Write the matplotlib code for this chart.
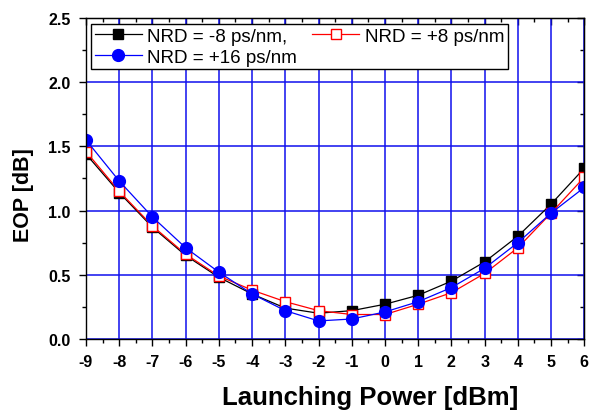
import numpy as np
import matplotlib
matplotlib.use('Agg')
from matplotlib import pyplot as plt
from matplotlib.ticker import MultipleLocator

plt.rcParams['font.family'] = ['Liberation Sans', 'DejaVu Sans']
plt.rcParams['axes.unicode_minus'] = False

# launching power [dBm]
power = [-9, -8, -7, -6, -5, -4, -3, -2, -1, 0, 1, 2, 3, 4, 5, 6]
# EOP [dB] per residual dispersion
eop_m8 = [1.44, 1.14, 0.87, 0.65, 0.48, 0.35, 0.24, 0.20, 0.22, 0.27, 0.34, 0.45, 0.60, 0.80, 1.05, 1.33]
eop_p8 = [1.46, 1.15, 0.88, 0.66, 0.49, 0.38, 0.29, 0.22, 0.19, 0.19, 0.27, 0.36, 0.51, 0.71, 0.98, 1.26]
eop_p16 = [1.55, 1.23, 0.95, 0.71, 0.52, 0.35, 0.22, 0.14, 0.155, 0.21, 0.29, 0.40, 0.55, 0.75, 0.98, 1.18]

fig = plt.figure(figsize=(5.89, 4.14), dpi=100)
ax = fig.add_axes([0.146, 0.179, 0.846, 0.775])

ax.grid(True, which='major', color='#1010ee', lw=1.1)
ax.set_axisbelow(True)

l1, = ax.plot(power, eop_m8, color='black', lw=0.9, marker='s', ms=7,
              mfc='black', mec='black', label='NRD = -8 ps/nm,')
l2, = ax.plot(power, eop_p8, color='red', lw=0.9, marker='s', ms=7,
              mfc='white', mec='red', mew=1.0, label='NRD = +8 ps/nm')
l3, = ax.plot(power, eop_p16, color='blue', lw=0.9, marker='o', ms=8.5,
              mfc='blue', mec='blue', label='NRD = +16 ps/nm')

ax.set_xlim(-9, 6)
ax.set_ylim(0, 2.5)
ax.xaxis.set_major_locator(MultipleLocator(1))
ax.xaxis.set_minor_locator(MultipleLocator(0.5))
ax.yaxis.set_major_locator(MultipleLocator(0.5))
ax.yaxis.set_minor_locator(MultipleLocator(0.25))
ax.yaxis.set_major_formatter(plt.FormatStrFormatter('%.1f'))

ax.tick_params(which='both', direction='out', top=False, right=False, width=1)
ax.tick_params(which='major', length=5, labelsize=11.5, pad=6)
ax.tick_params(which='minor', length=3)
for lab in ax.get_xticklabels() + ax.get_yticklabels():
    lab.set_fontweight('bold')

# inward ticks on top and right
sec_x = ax.secondary_xaxis('top')
sec_x.xaxis.set_major_locator(MultipleLocator(1))
sec_x.xaxis.set_minor_locator(MultipleLocator(0.5))
sec_x.tick_params(which='both', direction='in', labeltop=False, width=1)
sec_x.tick_params(which='major', length=5)
sec_x.tick_params(which='minor', length=3)
sec_y = ax.secondary_yaxis('right')
sec_y.yaxis.set_major_locator(MultipleLocator(0.5))
sec_y.yaxis.set_minor_locator(MultipleLocator(0.25))
sec_y.tick_params(which='both', direction='in', labelright=False, width=1)
sec_y.tick_params(which='major', length=5)
sec_y.tick_params(which='minor', length=3)

for sp in ax.spines.values():
    sp.set_linewidth(1.0)

fig.text(370 / 589, 1 - 398 / 414, 'Launching Power [dBm]', fontsize=18.5,
         fontweight='bold', ha='center', va='center')
fig.text(24 / 589, 1 - 195 / 414, 'EOP [dB]', fontsize=15.5,
         fontweight='bold', ha='center', va='center', rotation=90)

leg = ax.legend(handles=[l1, l3, l2], ncol=2, loc='upper left',
                bbox_to_anchor=(0.01, 0.982), fontsize=13.5, frameon=True,
                fancybox=False, edgecolor='black', framealpha=1,
                borderpad=0.2, handlelength=2.5, handletextpad=0.3,
                columnspacing=0.8, labelspacing=0.2, borderaxespad=0)
leg.get_frame().set_linewidth(1.0)

fig.savefig('out.png', dpi=100)
